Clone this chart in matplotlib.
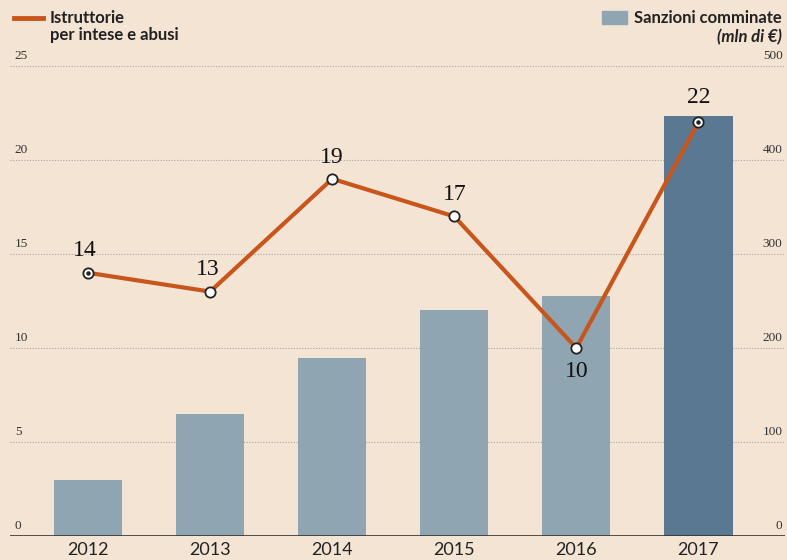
import numpy as np
import matplotlib.pyplot as plt

years = ['2012', '2013', '2014', '2015', '2016', '2017']
sanzioni = [60, 130, 189, 240, 255, 447]      # mln di euro (right axis)
istruttorie = [14, 13, 19, 17, 10, 22]         # left axis
left_ticks = [0, 5, 10, 15, 20, 25]
right_ticks = [0, 100, 200, 300, 400, 500]

bg = '#f4e4d4'
bar_col = '#8fa5b2'
bar_last = '#5a7891'
line_col = '#c8561c'
narrow = ['Lato', 'DejaVu Sans']
serif = ['Liberation Serif', 'DejaVu Serif']

fig = plt.figure(figsize=(7.87, 5.6), dpi=100, facecolor=bg)
ax = fig.add_axes([10/787, 1-536/560, 775/787, 470/560])
ax.set_facecolor(bg)
x = np.arange(len(years))
cols = [bar_col]*(len(years)-1) + [bar_last]
ax.bar(x, sanzioni, width=0.56, color=cols, zorder=2)
ax.set_xlim(-0.64, 5.71)
ax.set_ylim(0, 500)
for t in right_ticks[1:]:
    ax.axhline(t, color='#aaa49e', lw=0.8, ls=(0, (1, 1.5)), zorder=1)
ax.axhline(0, color='#333333', lw=1.2, zorder=3)
for s in ax.spines.values():
    s.set_visible(False)
ax.set_yticks([])
ax.set_xticks(x)
ax.set_xticklabels(years, family=narrow, fontsize=13, color='#222222')
ax.tick_params(axis='x', length=0, pad=4)

ax2 = ax.twinx()
ax2.set_ylim(0, 25)
ax2.set_yticks([])
for s in ax2.spines.values():
    s.set_visible(False)
ax2.plot(x, istruttorie, color=line_col, lw=3, zorder=4)
ax2.scatter(x, istruttorie, s=55, facecolor='white', edgecolor='#222222', lw=1.3, zorder=5)
ax2.scatter([x[0], x[-1]], [istruttorie[0], istruttorie[-1]], s=5, color='#222222', zorder=6)

# value labels: small shifts from each point
offsets = [(-0.03, 1.2), (-0.02, 1.2), (0, 1.15), (0, 1.15), (0, -1.25), (0, 1.3)]
for xi, v, (dx, dy) in zip(x, istruttorie, offsets):
    ax2.text(xi + dx, v + dy, str(v), ha='center', va='center',
             family=serif, fontsize=17, color='#111111')

# axis labels on the gridlines
for lt, rt in zip(left_ticks, right_ticks):
    ax.text(-0.6, rt + 4, str(lt), ha='left', va='bottom',
            family=serif, fontsize=9.5, color='#333333')
    ax.text(5.69, rt + 4, str(rt), ha='right', va='bottom',
            family=serif, fontsize=9.5, color='#333333')

# legends
fig.add_artist(plt.Line2D([14/787, 43/787], [1-18/560, 1-18/560], color=line_col, lw=3.5))
fig.text(50/787, 1-10/560, 'Istruttorie\nper intese e abusi', ha='left', va='top',
         family=narrow, fontsize=12, weight='bold', color='#222222', linespacing=1.05)
fig.add_artist(plt.Rectangle((602/787, 1-24/560), 25/787, 13/560, color=bar_col))
fig.text(782/787, 1-10/560, 'Sanzioni comminate', ha='right', va='top',
         family=narrow, fontsize=12, weight='bold', color='#222222')
fig.text(782/787, 1-29/560, '(mln di €)', ha='right', va='top',
         family=narrow, fontsize=12, weight='bold', style='italic', color='#222222')

fig.savefig('out.png', dpi=100, facecolor=bg)
